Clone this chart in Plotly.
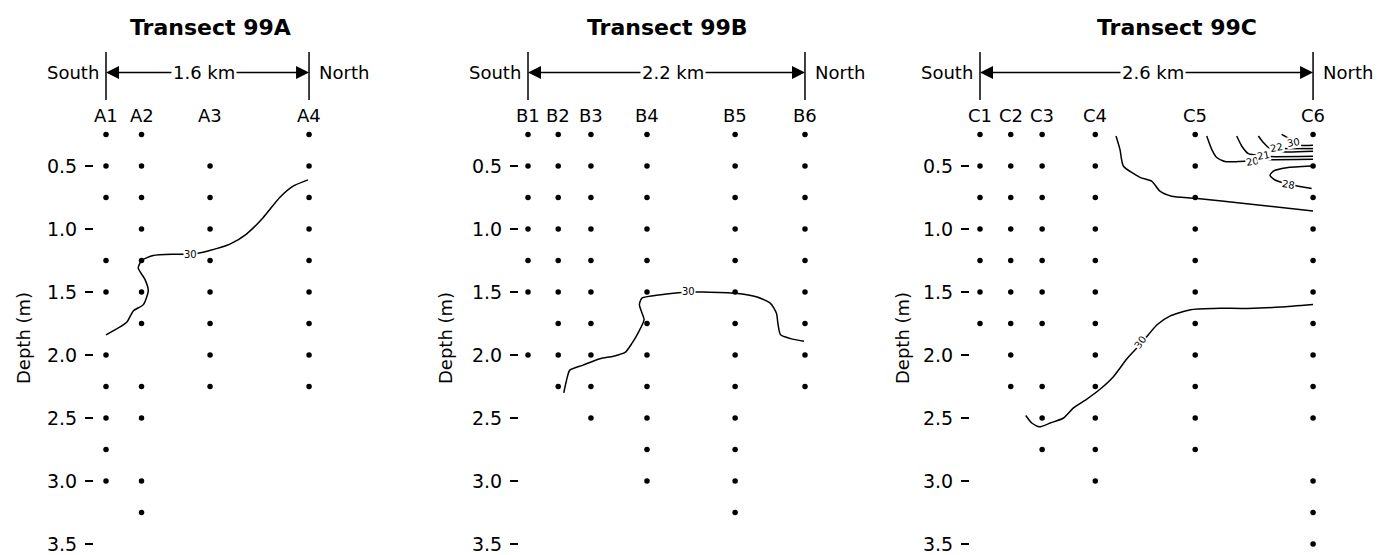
import plotly.graph_objects as go

W, H = 1379, 555
FONT = "DejaVu Sans"

# ---------------- data ----------------
titles = ["Transect 99A", "Transect 99B", "Transect 99C"]
lengths_km = [1.6, 2.2, 2.6]
length_labels = ["1.6 km", "2.2 km", "2.6 km"]

a_names = ["A1", "A2", "A3", "A4"]
a_km = [0.0, 0.28, 0.82, 1.6]
a_depths = [
    [0.25, 0.5, 0.75, 1.25, 1.5, 2.0, 2.25, 2.5, 2.75, 3.0],
    [0.25, 0.5, 0.75, 1.0, 1.25, 1.5, 1.75, 2.25, 2.5, 3.0, 3.25],
    [0.5, 0.75, 1.0, 1.25, 1.5, 1.75, 2.0, 2.25],
    [0.25, 0.5, 0.75, 1.0, 1.25, 1.5, 1.75, 2.0, 2.25],
]

b_names = ["B1", "B2", "B3", "B4", "B5", "B6"]
b_km = [0.0, 0.24, 0.50, 0.945, 1.645, 2.2]
b_depths = [
    [0.25, 0.5, 0.75, 1.0, 1.25, 1.5, 2.0],
    [0.25, 0.5, 0.75, 1.0, 1.25, 1.5, 1.75, 2.0, 2.25],
    [0.25, 0.5, 0.75, 1.0, 1.25, 1.5, 1.75, 2.0, 2.25, 2.5],
    [0.25, 0.5, 0.75, 1.0, 1.25, 1.5, 1.75, 2.0, 2.25, 2.5, 2.75, 3.0],
    [0.25, 0.5, 0.75, 1.0, 1.25, 1.5, 1.75, 2.0, 2.25, 2.5, 2.75, 3.0, 3.25],
    [0.25, 0.5, 0.75, 1.0, 1.25, 1.5, 1.75, 2.0, 2.25],
]

c_names = ["C1", "C2", "C3", "C4", "C5", "C6"]
c_km = [0.0, 0.24, 0.485, 0.90, 1.68, 2.6]
c_depths = [
    [0.25, 0.5, 0.75, 1.0, 1.25, 1.5, 1.75],
    [0.25, 0.5, 0.75, 1.0, 1.25, 1.5, 1.75, 2.0, 2.25],
    [0.25, 0.5, 0.75, 1.0, 1.25, 1.5, 1.75, 2.25, 2.5, 2.75],
    [0.25, 0.5, 0.75, 1.0, 1.25, 1.5, 1.75, 2.0, 2.25, 2.5, 2.75, 3.0],
    [0.25, 0.5, 0.75, 1.0, 1.25, 1.5, 1.75, 2.0, 2.25, 2.5, 2.75],
    [0.25, 0.5, 0.75, 1.0, 1.25, 1.5, 1.75, 2.0, 2.25, 2.5, 3.0, 3.25, 3.5],
]

# contour lines (distance km, depth m)
a30_km = [0.0, 0.163, 0.215, 0.294, 0.333, 0.307, 0.254, 0.281, 0.372, 0.530, 0.674,
          0.818, 0.976, 1.107, 1.238, 1.369, 1.474, 1.592]
a30_depth = [1.84, 1.74, 1.65, 1.60, 1.49, 1.40, 1.31, 1.25, 1.21, 1.20, 1.20,
             1.17, 1.12, 1.04, 0.91, 0.75, 0.66, 0.61]

b30_km = [0.284, 0.306, 0.332, 0.438, 0.571, 0.678, 0.771, 0.824, 0.877, 0.922, 0.903,
          0.885, 0.903, 0.996, 1.156, 1.262, 1.395, 1.647, 1.82, 1.926, 1.974, 1.985,
          2.006, 2.086, 2.192]
b30_depth = [2.30, 2.20, 2.12, 2.08, 2.03, 2.01, 1.98, 1.91, 1.82, 1.72, 1.66,
             1.60, 1.55, 1.53, 1.51, 1.50, 1.50, 1.51, 1.54, 1.59, 1.67, 1.75,
             1.84, 1.87, 1.89]

c30_km = [0.357, 0.404, 0.464, 0.548, 0.652, 0.730, 0.834, 0.939, 1.043, 1.147, 1.265,
          1.382, 1.486, 1.643, 1.825, 2.086, 2.347, 2.6]
c30_depth = [2.48, 2.54, 2.57, 2.54, 2.50, 2.42, 2.35, 2.27, 2.17, 2.03, 1.90,
             1.76, 1.69, 1.64, 1.63, 1.63, 1.62, 1.60]

c_upper_km = [1.062, 1.093, 1.119, 1.249, 1.340, 1.405, 1.496, 1.678, 2.082, 2.6]
c_upper_depth = [0.262, 0.37, 0.50, 0.59, 0.62, 0.70, 0.74, 0.756, 0.80, 0.857]

c20_km = [1.770, 1.809, 1.848, 1.913, 2.016, 2.108, 2.264, 2.6]
c20_depth = [0.262, 0.368, 0.433, 0.465, 0.465, 0.460, 0.451, 0.447]
c21_km = [2.004, 2.043, 2.095, 2.201, 2.248, 2.6]
c21_depth = [0.262, 0.341, 0.402, 0.419, 0.425, 0.423]
c22_km = [2.173, 2.212, 2.264, 2.318, 2.358, 2.6]
c22_depth = [0.262, 0.314, 0.362, 0.372, 0.387, 0.383]
c2x_km = [2.38, 2.6]
c2x_depth = [0.362, 0.362]
c30s_km = [2.355, 2.42, 2.446, 2.498, 2.6]
c30s_depth = [0.249, 0.288, 0.314, 0.336, 0.336]
c28_km = [2.589, 2.394, 2.290, 2.264, 2.303, 2.407, 2.498, 2.589]
c28_depth = [0.50, 0.513, 0.540, 0.574, 0.611, 0.645, 0.663, 0.679]

# contour labels: (panel, km, depth, text, angle)
contour_labels = [
    (0, 0.662, 1.20, "30", 0),
    (1, 1.273, 1.498, "30", 0),
    (2, 1.249, 1.90, "30", -55),
    (2, 2.125, 0.463, "20", -10),
    (2, 2.215, 0.418, "21", -10),
    (2, 2.318, 0.356, "22", -10),
    (2, 2.446, 0.312, "30", -10),
    (2, 2.407, 0.645, "28", 10),
]

depth_ticks = [0.5, 1.0, 1.5, 2.0, 2.5, 3.0, 3.5]

# ---------------- layout geometry (pixels) ----------------
panels = [
    dict(origin=106, scale=126.9, left=94, right=330, title_km=0.82, label_km=0.77, depth_px=23),
    dict(origin=528, scale=125.9, left=519, right=826, title_km=1.11, label_km=1.148, depth_px=445),
    dict(origin=980, scale=128.1, left=970, right=1340, title_km=1.54, label_km=1.354, depth_px=902),
]

def d_of(py):
    return 0.5 + (py - 166) / 126.0

Y_RANGE = [d_of(H), d_of(0)]
Y_TITLE = d_of(27)
Y_ARROW = d_of(72.5)
Y_BAR0, Y_BAR1 = d_of(52), d_of(100)
Y_STATION = d_of(115)

names_all = [a_names, b_names, c_names]
km_all = [a_km, b_km, c_km]
depths_all = [a_depths, b_depths, c_depths]
contours_all = [
    [(a30_km, a30_depth)],
    [(b30_km, b30_depth)],
    [(c30_km, c30_depth), (c_upper_km, c_upper_depth), (c20_km, c20_depth),
     (c21_km, c21_depth), (c22_km, c22_depth), (c2x_km, c2x_depth),
     (c30s_km, c30s_depth), (c28_km, c28_depth)],
]

fig = go.Figure()
annotations = []
shapes = []

for i, p in enumerate(panels):
    sx = "" if i == 0 else str(i + 1)
    xa, ya = "x" + sx, "y" + sx
    xr = [(p["left"] - p["origin"]) / p["scale"], (p["right"] - p["origin"]) / p["scale"]]
    fig.update_layout(**{
        "xaxis" + sx: dict(domain=[p["left"] / W, p["right"] / W], range=xr, visible=False,
                           anchor=ya),
        "yaxis" + sx: dict(domain=[0, 1], range=Y_RANGE, anchor=xa,
                           tickvals=depth_ticks, ticktext=[f"{v:.1f}" for v in depth_ticks],
                           ticks="outside", ticklen=8, tickwidth=1.5, tickcolor="black",
                           ticklabelstandoff=4,
                           showline=False, showgrid=False, zeroline=False,
                           tickfont=dict(family=FONT, size=19, color="black")),
    })

    # sampling dots
    xs, ys = [], []
    for k, ds in zip(km_all[i], depths_all[i]):
        xs += [k] * len(ds)
        ys += ds
    fig.add_trace(go.Scatter(x=xs, y=ys, mode="markers", xaxis=xa, yaxis=ya,
                             marker=dict(size=5.5, color="black"), showlegend=False,
                             hoverinfo="skip"))
    # contour lines
    for cx, cy in contours_all[i]:
        fig.add_trace(go.Scatter(x=cx, y=cy, mode="lines", xaxis=xa, yaxis=ya,
                                 line=dict(color="black", width=1.5, shape="spline", smoothing=0.6),
                                 showlegend=False, hoverinfo="skip"))

    L = lengths_km[i]
    # title
    annotations.append(dict(x=p["title_km"], y=Y_TITLE, xref=xa, yref=ya, showarrow=False,
                            text="<b>" + titles[i] + "</b>",
                            font=dict(family=FONT, size=22, color="black")))
    # end bars
    for xv in (0, L):
        shapes.append(dict(type="line", xref=xa, yref=ya, x0=xv, x1=xv, y0=Y_BAR0, y1=Y_BAR1,
                           line=dict(color="black", width=1.5)))
    # arrows
    for xv in (0, L):
        annotations.append(dict(x=xv, y=Y_ARROW, xref=xa, yref=ya, ax=p["label_km"], ay=Y_ARROW,
                                axref=xa, ayref=ya, text="", showarrow=True, arrowhead=2,
                                arrowsize=2.0, arrowwidth=1.3, arrowcolor="black", standoff=0))
    annotations.append(dict(x=p["label_km"], y=Y_ARROW, xref=xa, yref=ya, showarrow=False,
                            text=length_labels[i], bgcolor="white", borderpad=1,
                            font=dict(family=FONT, size=18, color="black")))
    annotations.append(dict(x=0, y=Y_ARROW, xref=xa, yref=ya, showarrow=False, text="South",
                            xanchor="right", xshift=-5,
                            font=dict(family=FONT, size=18, color="black")))
    annotations.append(dict(x=L, y=Y_ARROW, xref=xa, yref=ya, showarrow=False, text="North",
                            xanchor="left", xshift=8,
                            font=dict(family=FONT, size=18, color="black")))
    # station labels
    for k, nm in zip(km_all[i], names_all[i]):
        annotations.append(dict(x=k, y=Y_STATION, xref=xa, yref=ya, showarrow=False, text=nm,
                                font=dict(family=FONT, size=18, color="black")))
    # axis title
    annotations.append(dict(x=p["depth_px"] / W, y=1 - 338 / H, xref="paper", yref="paper",
                            xanchor="center", yanchor="middle",
                            showarrow=False, text="Depth (m)", textangle=-90,
                            font=dict(family=FONT, size=18, color="black")))

for pi, kx, dy, txt, ang in contour_labels:
    sx = "" if pi == 0 else str(pi + 1)
    annotations.append(dict(x=kx, y=dy, xref="x" + sx, yref="y" + sx, showarrow=False,
                            text=txt, textangle=ang, bgcolor="white", borderpad=0,
                            font=dict(family=FONT, size=10, color="black")))

fig.update_layout(width=W, height=H, margin=dict(l=0, r=0, t=0, b=0),
                  paper_bgcolor="white", plot_bgcolor="white",
                  annotations=annotations, shapes=shapes, showlegend=False)

fig.write_html("out.html", config={"displayModeBar": False},
               post_script="document.body.style.margin='0px';"
                           "document.documentElement.style.overflow='hidden';")
